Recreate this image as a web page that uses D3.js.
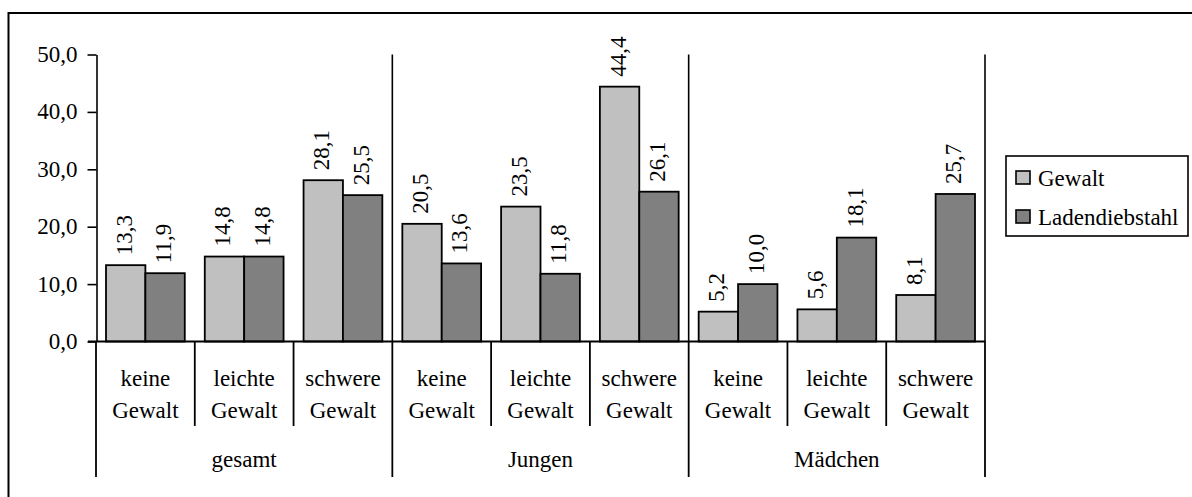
<!DOCTYPE html>
<html><head><meta charset="utf-8">
<script src="https://cdn.jsdelivr.net/npm/d3@7"></script>
</head>
<body style="margin:0">
<script>
const groups = ["gesamt", "Jungen", "Mädchen"];
const subLabels = [["keine","Gewalt"],["leichte","Gewalt"],["schwere","Gewalt"]];
const categories = ["gesamt|keine","gesamt|leichte","gesamt|schwere","Jungen|keine","Jungen|leichte","Jungen|schwere","Mädchen|keine","Mädchen|leichte","Mädchen|schwere"];
const seriesNames = ["Gewalt", "Ladendiebstahl"];
const gewalt = [13.3, 14.8, 28.1, 20.5, 23.5, 44.4, 5.2, 5.6, 8.1];
const laden = [11.9, 14.8, 25.5, 13.6, 11.8, 26.1, 10.0, 18.1, 25.7];
const yTicks = [0, 10, 20, 30, 40, 50];
const colors = ["#c0c0c0", "#808080"];

const W = 1192, H = 497;
const FONT = "Times New Roman";
const FS = 23;
const fmt = d3.formatLocale({decimal: ",", thousands: ".", grouping: [3], currency: ["", "€"]}).format(".1f");

const svg = d3.select("body").append("svg").attr("width", W).attr("height", H)
  .attr("font-family", FONT).style("display", "block");

function txt(sel) {
  return sel.attr("font-family", FONT).attr("font-size", FS).attr("fill", "#000");
}

// outer frame
svg.append("rect").attr("x", 8.5).attr("y", 13).attr("width", 1200).attr("height", 520)
  .attr("fill", "none").attr("stroke", "#000").attr("stroke-width", 2);

const x = d3.scaleBand().domain(categories).range([96, 985]).padding(0);
const xs = d3.scaleBand().domain(seriesNames).range([10, x.bandwidth() - 10]).padding(0);
const y = d3.scaleLinear().domain([0, 50]).range([341.5, 54.5]);

// y axis
const yAxis = d3.axisLeft(y).tickValues(yTicks).tickFormat(fmt).tickSize(9).tickSizeOuter(0).tickPadding(10);
const gy = svg.append("g").attr("transform", "translate(96.5,0)").call(yAxis);
gy.attr("font-family", FONT).attr("font-size", FS);
gy.selectAll("path,line").attr("stroke", "#000").attr("stroke-width", 1.6);
txt(gy.selectAll("text")).attr("dy", "0.3em");

// bars
const series = [gewalt, laden];
series.forEach((vals, si) => {
  const g = svg.append("g");
  g.selectAll("rect").data(vals).join("rect")
    .attr("x", (d, i) => x(categories[i]) + xs(seriesNames[si]))
    .attr("y", d => y(d))
    .attr("width", xs.bandwidth())
    .attr("height", d => y(0) - y(d))
    .attr("fill", colors[si]).attr("stroke", "#000").attr("stroke-width", 1.8);
  txt(g.selectAll("text").data(vals).join("text"))
    .attr("transform", (d, i) => {
      const cx = x(categories[i]) + xs(seriesNames[si]) + xs.bandwidth() / 2;
      return `translate(${cx + 6},${y(d) - 10}) rotate(-90)`;
    })
    .text(d => fmt(d));
});

// x axis baseline
svg.append("line").attr("x1", 88).attr("x2", 985.5).attr("y1", y(0)).attr("y2", y(0))
  .attr("stroke", "#000").attr("stroke-width", 1.8);

// category dividers below axis
const bounds = categories.map(c => x(c)).concat([x.range()[1]]);
bounds.forEach((b, i) => {
  const isGroup = i % 3 === 0;
  svg.append("line").attr("x1", b).attr("x2", b).attr("y1", y(0)).attr("y2", isGroup ? 477 : 426)
    .attr("stroke", "#000").attr("stroke-width", 1.8);
  if (isGroup && i > 0) {
    svg.append("line").attr("x1", b).attr("x2", b).attr("y1", y(50)).attr("y2", y(0))
      .attr("stroke", "#000").attr("stroke-width", 1.6);
  }
});

// sub-category labels
categories.forEach((c, i) => {
  const cx = x(c) + x.bandwidth() / 2;
  const lab = subLabels[i % 3];
  txt(svg.append("text")).attr("x", cx).attr("y", 386).attr("text-anchor", "middle").text(lab[0]);
  txt(svg.append("text")).attr("x", cx).attr("y", 418).attr("text-anchor", "middle").text(lab[1]);
});

// group labels
groups.forEach((gname, gi) => {
  const x0 = x(categories[gi * 3]);
  const x1 = x(categories[gi * 3 + 2]) + x.bandwidth();
  txt(svg.append("text")).attr("x", (x0 + x1) / 2).attr("y", 467).attr("text-anchor", "middle").text(gname);
});

// legend
const lg = svg.append("g");
lg.append("rect").attr("x", 1006).attr("y", 156).attr("width", 182).attr("height", 80)
  .attr("fill", "#fff").attr("stroke", "#000").attr("stroke-width", 1.6);
seriesNames.forEach((s, i) => {
  const yy = 171 + i * 39;
  lg.append("rect").attr("x", 1016).attr("y", yy).attr("width", 14).attr("height", 13)
    .attr("fill", colors[i]).attr("stroke", "#000").attr("stroke-width", 1.6);
  txt(lg.append("text")).attr("x", 1038).attr("y", yy + 14.5).text(s);
});
</script>
</body></html>
